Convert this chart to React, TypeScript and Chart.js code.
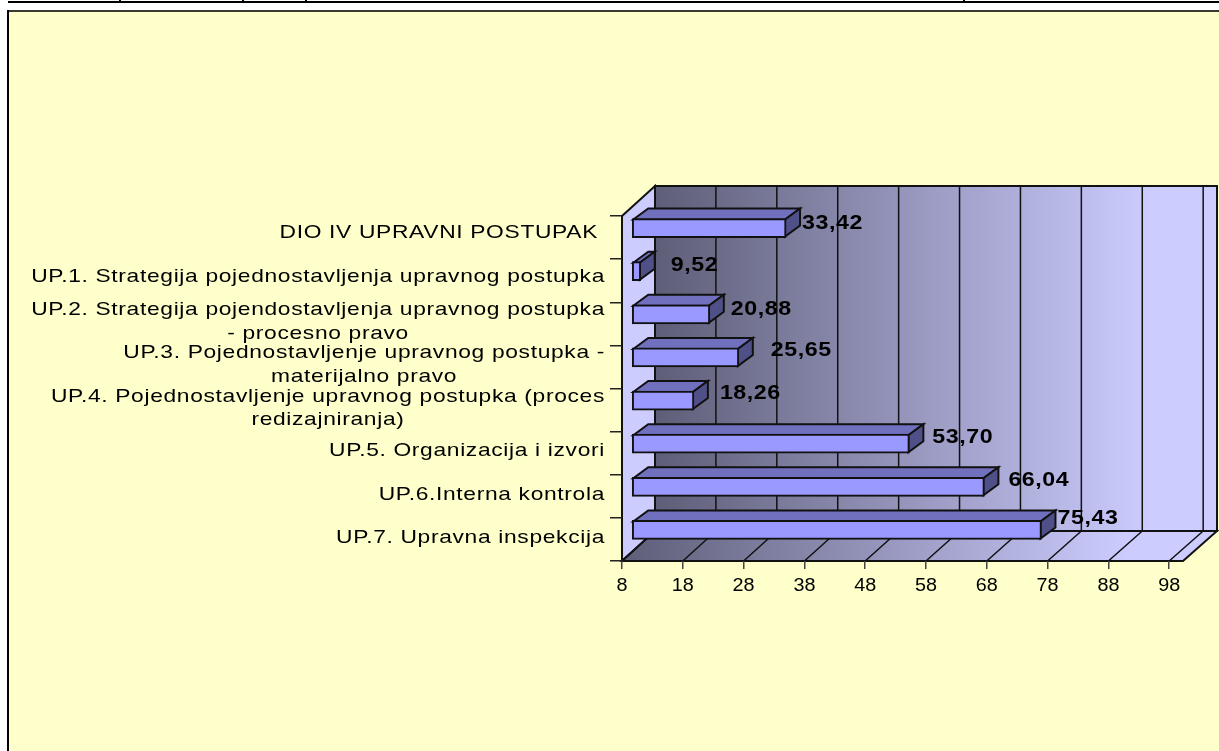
import React, { useEffect, useRef } from "react";
import { Chart, registerables } from "chart.js";

Chart.register(...registerables);

const categories: string[][] = [
  ["DIO IV UPRAVNI POSTUPAK "],
  ["UP.1. Strategija pojednostavljenja upravnog postupka"],
  ["UP.2. Strategija pojendostavljenja upravnog postupka", "- procesno pravo"],
  ["UP.3. Pojednostavljenje upravnog postupka -", "materijalno pravo"],
  ["UP.4. Pojednostavljenje upravnog postupka (proces", "redizajniranja)"],
  ["UP.5. Organizacija i izvori"],
  ["UP.6.Interna kontrola"],
  ["UP.7. Upravna inspekcija"],
];
const values = [33.42, 9.52, 20.88, 25.65, 18.26, 53.7, 66.04, 75.43];
const valueLabels = ["33,42", "9,52", "20,88", "25,65", "18,26", "53,70", "66,04", "75,43"];
const xTickValues = [8, 18, 28, 38, 48, 58, 68, 78, 88, 98];
const xMin = 8;
const xMax = 100.27;

// label placement relative to the bar end [dx, dy]
const labelNudges = [[16, -5], [30, -6], [21, -5], [32, -7], [26, -7], [23, -6], [24, -6], [16, -11]];
const catLabelNudges = [-4.5, -4, -2, -2, -2, -2, -1.5, -1.5];

const FONT = '"Liberation Sans", Arial, sans-serif';
const WALL_DX = 33;
const WALL_DY = -30;
const BAR_DX = 9.5;
const BAR_DY = -9.5;
const DEPTH_X = 15;
const DEPTH_Y = -11;

function drawText(ctx: any, text: string, x: number, y: number, font: string, stretch: number, spacing: number, align: string) {
  ctx.save();
  ctx.font = font;
  ctx.letterSpacing = spacing + "px";
  ctx.textBaseline = "middle";
  ctx.textAlign = "left";
  ctx.fillStyle = "#000000";
  const w = ctx.measureText(text).width * stretch;
  const left = align === "right" ? x - w : align === "center" ? x - w / 2 : x;
  ctx.translate(left, y);
  ctx.scale(stretch, 1);
  ctx.fillText(text, 0, 0);
  ctx.restore();
}

function poly(ctx: any, pts: number[][], fill: any, stroke = "#111111", lw = 2) {
  ctx.beginPath();
  pts.forEach((p, i) => (i ? ctx.lineTo(p[0], p[1]) : ctx.moveTo(p[0], p[1])));
  ctx.closePath();
  ctx.fillStyle = fill;
  ctx.fill();
  if (stroke) {
    ctx.strokeStyle = stroke;
    ctx.lineWidth = lw;
    ctx.lineJoin = "miter";
    ctx.stroke();
  }
}

const scene3d = {
  id: "scene3d",
  beforeDraw(chart: any) {
    const { ctx, chartArea: a, scales } = chart;
    const W = chart.width;
    const H = chart.height;
    ctx.save();
    ctx.fillStyle = "#ffffff";
    ctx.fillRect(0, 0, W, H);
    // strip above the panel
    ctx.fillStyle = "#000000";
    ctx.fillRect(8, 1, W - 8, 2);
    [119, 242, 305, 963].forEach((x) => ctx.fillRect(x, 0, 2, 2));
    // panel
    ctx.fillStyle = "#FFFFCC";
    ctx.fillRect(8, 11, W - 8, H - 11);
    ctx.fillStyle = "#3a3a30";
    ctx.fillRect(7, 10, W - 7, 2);
    ctx.fillStyle = "#000000";
    ctx.fillRect(7, 10, 2, H - 10);

    const L = a.left, R = a.right, T = a.top, B = a.bottom;
    const bR = R + WALL_DX + 1;
    const grad = ctx.createLinearGradient(L + WALL_DX, 0, 1150, 0);
    grad.addColorStop(0, "#5E5E78");
    grad.addColorStop(1, "#CCCCFF");
    const gradF = ctx.createLinearGradient(L, 0, 1130, 0);
    gradF.addColorStop(0, "#5E5E78");
    gradF.addColorStop(1, "#CCCCFF");

    // left wall, back wall, floor
    poly(ctx, [[L, T], [L + WALL_DX, T + WALL_DY], [L + WALL_DX, B + WALL_DY], [L, B]], "#CCCCFF");
    poly(ctx, [[L + WALL_DX, T + WALL_DY], [bR, T + WALL_DY], [bR, B + WALL_DY], [L + WALL_DX, B + WALL_DY]], grad);
    poly(ctx, [[L, B], [L + WALL_DX, B + WALL_DY], [bR, B + WALL_DY], [R, B]], gradF);

    // gridlines on back wall and floor, taken from the x scale
    ctx.strokeStyle = "#111111";
    ctx.lineWidth = 1.5;
    const x = scales.x;
    x.ticks.forEach((t: any, i: number) => {
      const fx = x.getPixelForTick(i);
      const bx = L + WALL_DX + ((fx - L) * (bR - L - WALL_DX)) / (R - L);
      ctx.beginPath();
      if (i > 0) {
        ctx.moveTo(bx, T + WALL_DY);
        ctx.lineTo(bx, B + WALL_DY);
      }
      ctx.moveTo(fx, B);
      ctx.lineTo(bx, B + WALL_DY);
      ctx.stroke();
    });
    ctx.restore();
  },
  beforeDatasetDraw(chart: any, args: any) {
    const { ctx } = chart;
    ctx.save();
    ctx.translate(BAR_DX, BAR_DY);
    args.meta.data.forEach((el: any) => {
      const { x, y, base, height } = el.getProps(["x", "y", "base", "height"], true);
      const t = y - height / 2 + 1;
      const b = y + height / 2 - 1;
      const l = base + 1;
      const r = x - 1;
      poly(ctx, [[l, t], [l + DEPTH_X, t + DEPTH_Y], [r + DEPTH_X, t + DEPTH_Y], [r, t]], "#7070BF");
      poly(ctx, [[r, t], [r + DEPTH_X, t + DEPTH_Y], [r + DEPTH_X, b + DEPTH_Y], [r, b]], "#505088");
    });
  },
  afterDatasetDraw(chart: any) {
    chart.ctx.restore();
  },
  afterDraw(chart: any) {
    const { ctx, scales } = chart;
    const meta = chart.getDatasetMeta(0);
    // value labels
    meta.data.forEach((el: any, i: number) => {
      const { x, y } = el.getProps(["x", "y"], true);
      const n = labelNudges[i];
      drawText(ctx, valueLabels[i], x + BAR_DX + n[0], y + BAR_DY + n[1], `bold 20px ${FONT}`, 1.16, 0.5, "left");
    });
    // category labels
    const labelFont = `19px ${FONT}`;
    ctx.save();
    categories.forEach((lines, i) => {
      ctx.font = labelFont;
      ctx.letterSpacing = "0.55px";
      const widest = Math.max(...lines.map((s) => ctx.measureText(s).width)) * 1.2;
      const cx = 605 - widest / 2;
      const cy = scales.y.getPixelForValue(i) + catLabelNudges[i];
      lines.forEach((s, k) => {
        drawText(ctx, s, cx, cy + (k - (lines.length - 1) / 2) * 23.5, labelFont, 1.2, 0.55, "center");
      });
    });
    ctx.restore();
    // x tick labels
    scales.x.ticks.forEach((t: any, i: number) => {
      drawText(ctx, String(t.value), scales.x.getPixelForTick(i), 586, `18px ${FONT}`, 1.1, 0, "center");
    });
  },
};

export default function App() {
  const ref = useRef<HTMLCanvasElement>(null);
  useEffect(() => {
    document.body.style.margin = "0";
    document.body.style.background = "#ffffff";
    const chart = new Chart(ref.current as HTMLCanvasElement, {
      type: "bar",
      data: {
        labels: categories.map((c) => c.join(" ")),
        datasets: [
          {
            data: values,
            base: xMin,
            backgroundColor: "#9999FF",
            borderColor: "#111111",
            borderWidth: 2,
            borderSkipped: false,
            barThickness: 19,
            clip: false as any,
          },
        ],
      },
      options: {
        indexAxis: "y",
        animation: false,
        responsive: false,
        layout: { padding: { left: 622, right: 36, top: 216, bottom: 190 } },
        plugins: { legend: { display: false }, tooltip: { enabled: false }, title: { display: false } },
        scales: {
          x: {
            min: xMin,
            max: xMax,
            afterBuildTicks(axis: any) {
              axis.ticks = xTickValues.map((value) => ({ value }));
            },
            afterFit(s: any) {
              s.height = 0;
            },
            ticks: { display: false },
            grid: { drawOnChartArea: false, drawTicks: true, tickLength: 8, color: "#444444", lineWidth: 1.5 },
            border: { display: false },
          },
          y: {
            afterFit(s: any) {
              s.width = 0;
            },
            ticks: { display: false },
            grid: { drawOnChartArea: false, drawTicks: true, tickLength: 12, color: "#222222", lineWidth: 1.5 },
            border: { display: false },
          },
        },
      },
      plugins: [scene3d],
    } as any);
    return () => chart.destroy();
  }, []);
  return <canvas ref={ref} width={1219} height={751} style={{ display: "block" }} />;
}
